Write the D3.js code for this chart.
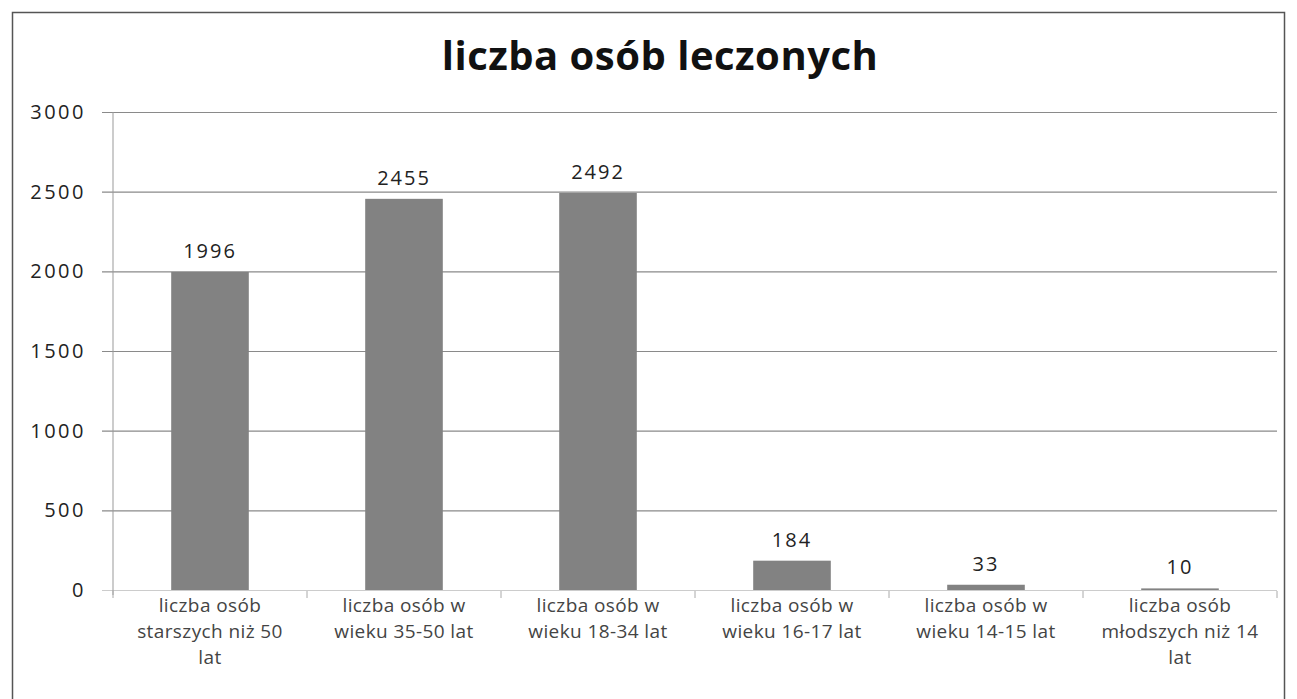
<!DOCTYPE html>
<html>
<head>
<meta charset="utf-8">
<script src="https://cdn.jsdelivr.net/npm/d3@7"></script>
<style>
  body { margin: 0; background: #fff; }
</style>
</head>
<body>
<div id="chart"></div>
<script>
const width = 1297;
const height = 699;

// data
const categories = [
  ['liczba osób', 'starszych niż 50', 'lat'],
  ['liczba osób w', 'wieku 35-50 lat'],
  ['liczba osób w', 'wieku 18-34 lat'],
  ['liczba osób w', 'wieku 16-17 lat'],
  ['liczba osób w', 'wieku 14-15 lat'],
  ['liczba osób', 'młodszych niż 14', 'lat']
];
const values = [1996, 2455, 2492, 184, 33, 10];
const yTicks = [0, 500, 1000, 1500, 2000, 2500, 3000];
const title = 'liczba osób leczonych';

const margin = { top: 112, left: 113, right: 20, bottom: 109 };
const numFont = '"Open Sans", sans-serif';

const svg = d3.select('#chart').append('svg')
  .attr('width', width)
  .attr('height', height);

// outer frame
svg.append('rect')
  .attr('x', 12.5)
  .attr('y', 12.5)
  .attr('width', 1272)
  .attr('height', 720)
  .attr('fill', 'none')
  .attr('stroke', '#555')
  .attr('stroke-width', 1.5);

svg.append('text')
  .attr('x', 660)
  .attr('y', 70)
  .attr('text-anchor', 'middle')
  .style('font-family', numFont)
  .style('font-size', '40px')
  .style('font-weight', 'bold')
  .style('letter-spacing', '0.5px')
  .attr('fill', '#111')
  .text(title);

const x = d3.scaleBand()
  .domain(d3.range(categories.length))
  .range([margin.left, width - margin.right])
  .paddingInner(0.6)
  .paddingOuter(0.3);

const xOuter = d3.scaleBand()
  .domain(d3.range(categories.length))
  .range([margin.left, width - margin.right]);

const y = d3.scaleLinear()
  .domain([0, 3000])
  .range([height - margin.bottom, margin.top]);

// gridlines + y labels
const yAxis = svg.append('g')
  .attr('transform', `translate(${margin.left},0)`)
  .call(d3.axisLeft(y).tickValues(yTicks)
    .tickFormat(d3.format('d'))
    .tickSize(-(width - margin.right - margin.left))
    .tickPadding(27));
yAxis.select('.domain').remove();
yAxis.selectAll('.tick line')
  .attr('stroke', d => d === 0 ? '#ccc' : '#8a8a8a')
  .attr('x1', -11)
  .attr('stroke-width', 1.2);
yAxis.selectAll('.tick text')
  .attr('fill', '#222')
  .style('font-family', numFont)
  .style('font-size', '20px')
  .style('letter-spacing', '2.5px');

// y axis line
svg.append('line')
  .attr('x1', margin.left).attr('x2', margin.left)
  .attr('y1', y(3000)).attr('y2', y(0) + 5)
  .attr('stroke', '#999');

// x ticks
svg.append('g')
  .selectAll('line')
  .data(d3.range(categories.length + 1))
  .join('line')
  .attr('x1', i => margin.left + i * xOuter.bandwidth())
  .attr('x2', i => margin.left + i * xOuter.bandwidth())
  .attr('y1', y(0) + 1)
  .attr('y2', y(0) + 8)
  .attr('stroke', '#aaa');

// bars
svg.append('g')
  .selectAll('rect')
  .data(values)
  .join('rect')
  .attr('x', (d, i) => x(i))
  .attr('y', d => y(d))
  .attr('width', x.bandwidth())
  .attr('height', d => y(0) - y(d))
  .attr('fill', '#828282');

// value labels
svg.append('g')
  .selectAll('text')
  .data(values)
  .join('text')
  .attr('x', (d, i) => x(i) + x.bandwidth() / 2)
  .attr('y', d => y(d) - 14)
  .attr('text-anchor', 'middle')
  .attr('fill', '#222')
  .style('font-family', numFont)
  .style('font-size', '20px')
  .style('letter-spacing', '2px')
  .text(d => d);

// category labels
const catG = svg.append('g')
  .selectAll('text')
  .data(categories)
  .join('text')
  .attr('x', (d, i) => xOuter(i) + xOuter.bandwidth() / 2)
  .attr('y', y(0) + 22)
  .attr('text-anchor', 'middle')
  .style('font-family', numFont)
  .style('font-size', '19px')
  .style('letter-spacing', '0.4px')
  .attr('fill', '#444');
catG.selectAll('tspan')
  .data(d => d)
  .join('tspan')
  .attr('x', function () { return d3.select(this.parentNode).attr('x'); })
  .attr('dy', (d, i) => i === 0 ? 0 : 26)
  .text(d => d);
</script>
</body>
</html>
